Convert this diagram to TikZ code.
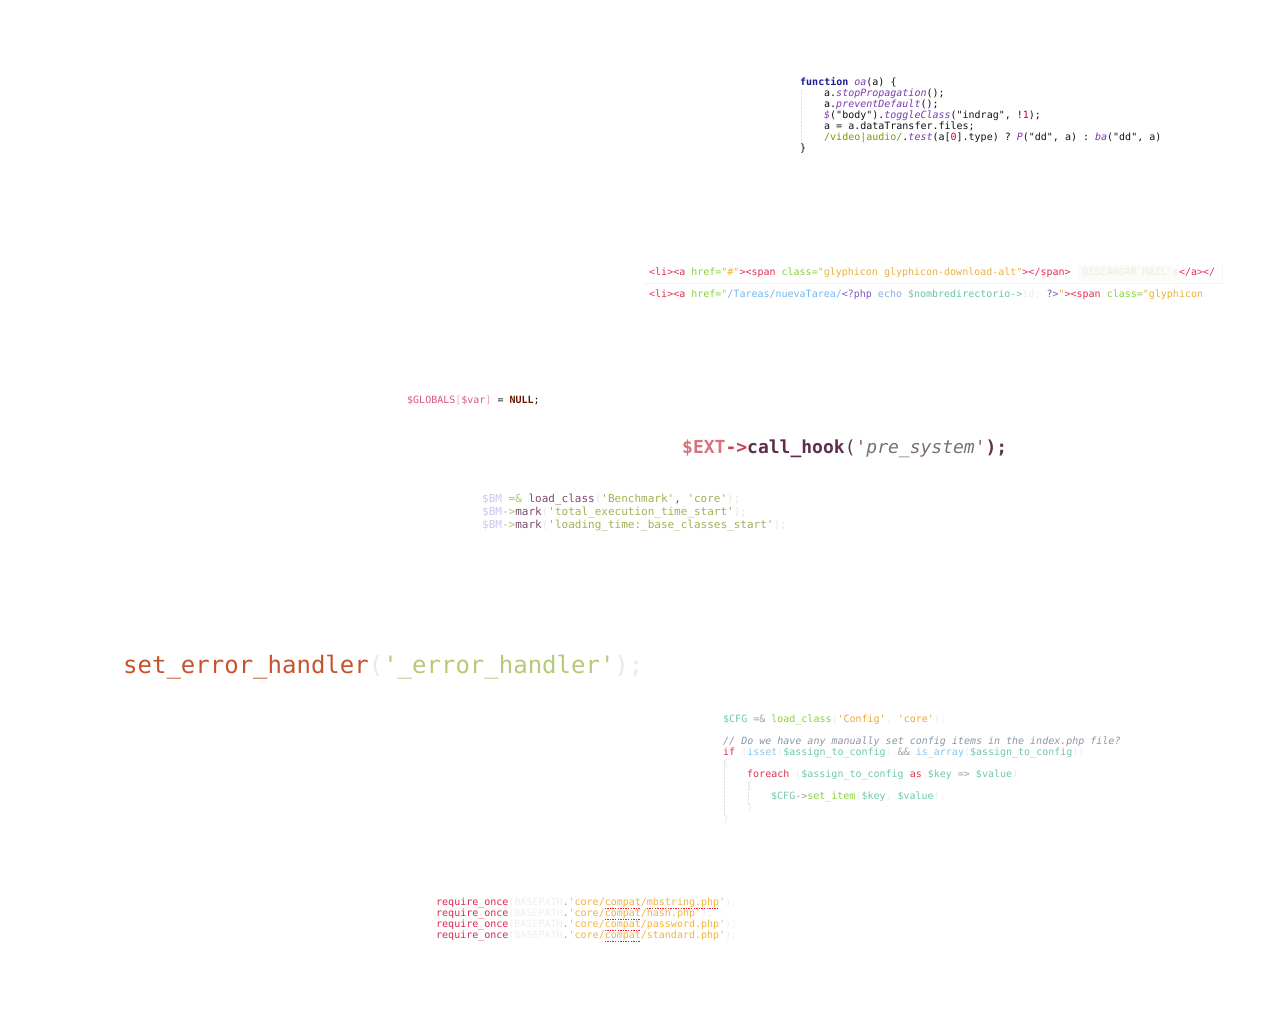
\documentclass[tikz,border=0pt]{standalone}
\usepackage{fontspec}
\setmonofont{DejaVu Sans Mono}
\usepackage{tikz}
\usetikzlibrary{calc}
% js
\definecolor{jsKey}{HTML}{1F1C8F}
\definecolor{jsFn}{HTML}{7B38B0}
\definecolor{jsRegex}{HTML}{7A9A01}
\definecolor{jsNum}{HTML}{D9001B}
\definecolor{jsTxt}{HTML}{111111}
% html
\definecolor{htTag}{HTML}{E0304F}
\definecolor{htAttr}{HTML}{86D13A}
\definecolor{htStr}{HTML}{EBB13A}
\definecolor{htPath}{HTML}{70B8F0}
\definecolor{htPhp}{HTML}{7E57C2}
\definecolor{htEcho}{HTML}{88AEDD}
\definecolor{htVar}{HTML}{6CC4A0}
\definecolor{htFaint}{HTML}{EDEDE6}
\definecolor{htBox}{HTML}{FBFBF7}
\definecolor{htRule}{HTML}{F4F4F4}
% globals / ext
\definecolor{glVar}{HTML}{D9577A}
\definecolor{glBr}{HTML}{E8A8B8}
\definecolor{glNull}{HTML}{6A1A00}
\definecolor{extVar}{HTML}{D9707A}
\definecolor{extArr}{HTML}{C8404E}
\definecolor{extFn}{HTML}{5C2F4C}
\definecolor{extStr}{HTML}{7A6E6E}
% benchmark
\definecolor{bmVar}{HTML}{C9C6F0}
\definecolor{bmOp}{HTML}{A9C766}
\definecolor{bmFn}{HTML}{7E4C70}
\definecolor{bmStr}{HTML}{A7AE55}
\definecolor{bmFaint}{HTML}{E6E6E6}
% error handler
\definecolor{seFn}{HTML}{C6532C}
\definecolor{seStr}{HTML}{B6C978}
\definecolor{seFaint}{HTML}{E8E8E8}
% config
\definecolor{cfVar}{HTML}{6CC9A6}
\definecolor{cfOp}{HTML}{A0A0A0}
\definecolor{cfFn}{HTML}{8AD03A}
\definecolor{cfStr}{HTML}{F2A23A}
\definecolor{cfCom}{HTML}{8C94A8}
\definecolor{cfKey}{HTML}{E0304F}
\definecolor{cfBi}{HTML}{86C4EE}
\definecolor{cfFaint}{HTML}{EAEAEA}
% require
\definecolor{rqKey}{HTML}{D9264F}
\definecolor{rqFaint}{HTML}{EEEEEE}
\definecolor{rqDot}{HTML}{999999}
\definecolor{rqStr}{HTML}{F0B43C}
\definecolor{spellred}{HTML}{E8203A}
\definecolor{guidegray}{HTML}{E0E0E0}

\newcommand{\tk}[2]{{\color{#1}#2}}
\newcommand{\cw}{6.02}
\newcommand{\spell}[3]{\draw[spellred, line width=1.4pt, dash pattern=on 1.4pt off 1.2pt] ($(#1.base west)+(#2*\cw,2.8)$) -- ($(#1.base west)+(#3*\cw,2.8)$);}
\newcommand{\guide}[3]{\draw[guidegray, densely dotted] (#1,#2) -- (#1,#3);}

\tikzset{
  code/.style={inner sep=0pt, anchor=base west, font=\ttfamily\fontsize{10}{12}\selectfont, text=jsTxt},
  codeM/.style={code, font=\ttfamily\fontsize{11}{13}\selectfont},
  codeL/.style={code, font=\ttfamily\fontsize{18}{20}\selectfont},
  codeXL/.style={code, font=\ttfamily\fontsize{24}{28}\selectfont}
}

\begin{document}
\begin{tikzpicture}[x=1pt,y=-1pt]
        \useasboundingbox (0,0) rectangle (1280,1024);

        % js block
        \guide{801}{90}{147}
        \node[code] (js1) at (800,85.5) {\tk{jsKey}{\bfseries function} \tk{jsFn}{\itshape oa}(a) \{};
        \node[code] (js2) at (824,96.5) {a.\tk{jsFn}{\itshape stopPropagation}();};
        \node[code] (js3) at (824,107.5) {a.\tk{jsFn}{\itshape preventDefault}();};
        \node[code] (js4) at (824,118.5) {\tk{jsFn}{\itshape \$}("body").\tk{jsFn}{\itshape toggleClass}("indrag", !\tk{jsNum}{1});};
        \node[code] (js5) at (824,129.5) {a = a.dataTransfer.files;};
        \node[code] (js6) at (824,140.5) {\tk{jsRegex}{/video|audio/}.\tk{jsFn}{\itshape test}(a[\tk{jsNum}{0}].type) ? \tk{jsFn}{\itshape P}("dd", a) : \tk{jsFn}{\itshape ba}("dd", a)};
        \node[code] (js7) at (800,151.5) {\}};

        % html block
        \draw[htRule] (643,283) -- (1222,283) -- (1222,264);
        \fill[htBox] (1078,265) rectangle (1178,281);
        \node[code] (ht1) at (649,275.5) {\tk{htTag}{<li><a} \tk{htAttr}{href=}\tk{htStr}{"\#"}\tk{htTag}{><span} \tk{htAttr}{class=}\tk{htStr}{"glyphicon glyphicon-download-alt"}\tk{htTag}{></span>}~~\tk{htFaint}{DESCARGAR MAIL's}\tk{htTag}{</a></}};
        \node[code] (ht2) at (649,297.5) {\tk{htTag}{<li><a} \tk{htAttr}{href=}\tk{htStr}{"}\tk{htPath}{/Tareas/nuevaTarea/}\tk{htPhp}{<?php} \tk{htEcho}{echo} \tk{htVar}{\$nombredirectorio->}\tk{htFaint}{id;} \tk{htPhp}{?>}\tk{htStr}{"}\tk{htTag}{><span} \tk{htAttr}{class=}\tk{htStr}{"glyphicon}};

        % globals
        \node[code] (gl) at (407,403.5) {\tk{glVar}{\$GLOBALS}\tk{glBr}{[}\tk{glVar}{\$var}\tk{glBr}{]} = \tk{glNull}{\bfseries NULL};};

        % hook
        \node[codeL] (ext) at (682,453.5) {\bfseries\tk{extVar}{\$EXT}\tk{extArr}{->}\tk{extFn}{call\_hook}\tk{extFn}{\mdseries(}\tk{extStr}{\mdseries\itshape 'pre\_system'}\tk{extFn}{);}};

        % benchmark
        \node[codeM] (bm1) at (482,502) {\tk{bmVar}{\$BM} \tk{bmOp}{=\&} \tk{bmFn}{load\_class}\tk{bmFaint}{(}\tk{bmStr}{'Benchmark'}\tk{bmFn}{,} \tk{bmStr}{'core'}\tk{bmFaint}{);}};
        \node[codeM] (bm2) at (482,515) {\tk{bmVar}{\$BM}\tk{bmOp}{->}\tk{bmFn}{mark}\tk{bmFaint}{(}\tk{bmStr}{'total\_execution\_time\_start'}\tk{bmFaint}{);}};
        \node[codeM] (bm3) at (482,528) {\tk{bmVar}{\$BM}\tk{bmOp}{->}\tk{bmFn}{mark}\tk{bmFaint}{(}\tk{bmStr}{'loading\_time:\_base\_classes\_start'}\tk{bmFaint}{);}};

        % error handler
        \node[codeXL] (seh) at (123,673) {\tk{seFn}{set\_error\_handler}\tk{seFaint}{(}\tk{seStr}{'\_error\_handler'}\tk{seFaint}{);}};

        % config
        \guide{724}{760}{815}
        \guide{748}{782}{805}
        \node[code] (cf1) at (723,722.5) {\tk{cfVar}{\$CFG} \tk{cfOp}{=\&} \tk{cfFn}{load\_class}\tk{cfFaint}{(}\tk{cfStr}{'Config'}\tk{cfFaint}{,} \tk{cfStr}{'core'}\tk{cfFaint}{);}};
        \node[code] (cf2) at (723,744.5) {\tk{cfCom}{\itshape // Do we have any manually set config items in the index.php file?}};
        \node[code] (cf3) at (723,755.5) {\tk{cfKey}{if} \tk{cfFaint}{(}\tk{cfBi}{isset}\tk{cfFaint}{(}\tk{cfVar}{\$assign\_to\_config}\tk{cfFaint}{)} \tk{cfOp}{\&\&} \tk{cfBi}{is\_array}\tk{cfFaint}{(}\tk{cfVar}{\$assign\_to\_config}\tk{cfFaint}{))}};
        \node[code] (cf4) at (723,766.5) {\tk{cfFaint}{\{}};
        \node[code] (cf5) at (747,777.5) {\tk{cfKey}{foreach} \tk{cfFaint}{(}\tk{cfVar}{\$assign\_to\_config} \tk{cfKey}{as} \tk{cfVar}{\$key} \tk{cfOp}{=>} \tk{cfVar}{\$value}\tk{cfFaint}{)}};
        \node[code] (cf6) at (747,788.5) {\tk{cfFaint}{\{}};
        \node[code] (cf7) at (771,799.5) {\tk{cfVar}{\$CFG}\tk{cfOp}{->}\tk{cfFn}{set\_item}\tk{cfFaint}{(}\tk{cfVar}{\$key}\tk{cfFaint}{,} \tk{cfVar}{\$value}\tk{cfFaint}{);}};
        \node[code] (cf8) at (747,810.5) {\tk{cfFaint}{\}}};
        \node[code] (cf9) at (723,821.5) {\tk{cfFaint}{\}}};

        % require
        \node[code] (rq1) at (436,905.5) {\tk{rqKey}{require\_once}\tk{rqFaint}{(BASEPATH}\tk{rqDot}{.}\tk{rqStr}{'core/compat/mbstring.php'}\tk{rqFaint}{);}};
        \node[code] (rq2) at (436,916.5) {\tk{rqKey}{require\_once}\tk{rqFaint}{(BASEPATH}\tk{rqDot}{.}\tk{rqStr}{'core/compat/hash.php'}\tk{rqFaint}{);}};
        \node[code] (rq3) at (436,927.5) {\tk{rqKey}{require\_once}\tk{rqFaint}{(BASEPATH}\tk{rqDot}{.}\tk{rqStr}{'core/compat/password.php'}\tk{rqFaint}{);}};
        \node[code] (rq4) at (436,938.5) {\tk{rqKey}{require\_once}\tk{rqFaint}{(BASEPATH}\tk{rqDot}{.}\tk{rqStr}{'core/compat/standard.php'}\tk{rqFaint}{);}};
        \spell{rq1}{28}{34}
        \spell{rq1}{35}{47}
        \spell{rq2}{28}{34}
        \spell{rq3}{28}{34}
        \spell{rq4}{28}{34}
    \end{tikzpicture}
\end{document}
